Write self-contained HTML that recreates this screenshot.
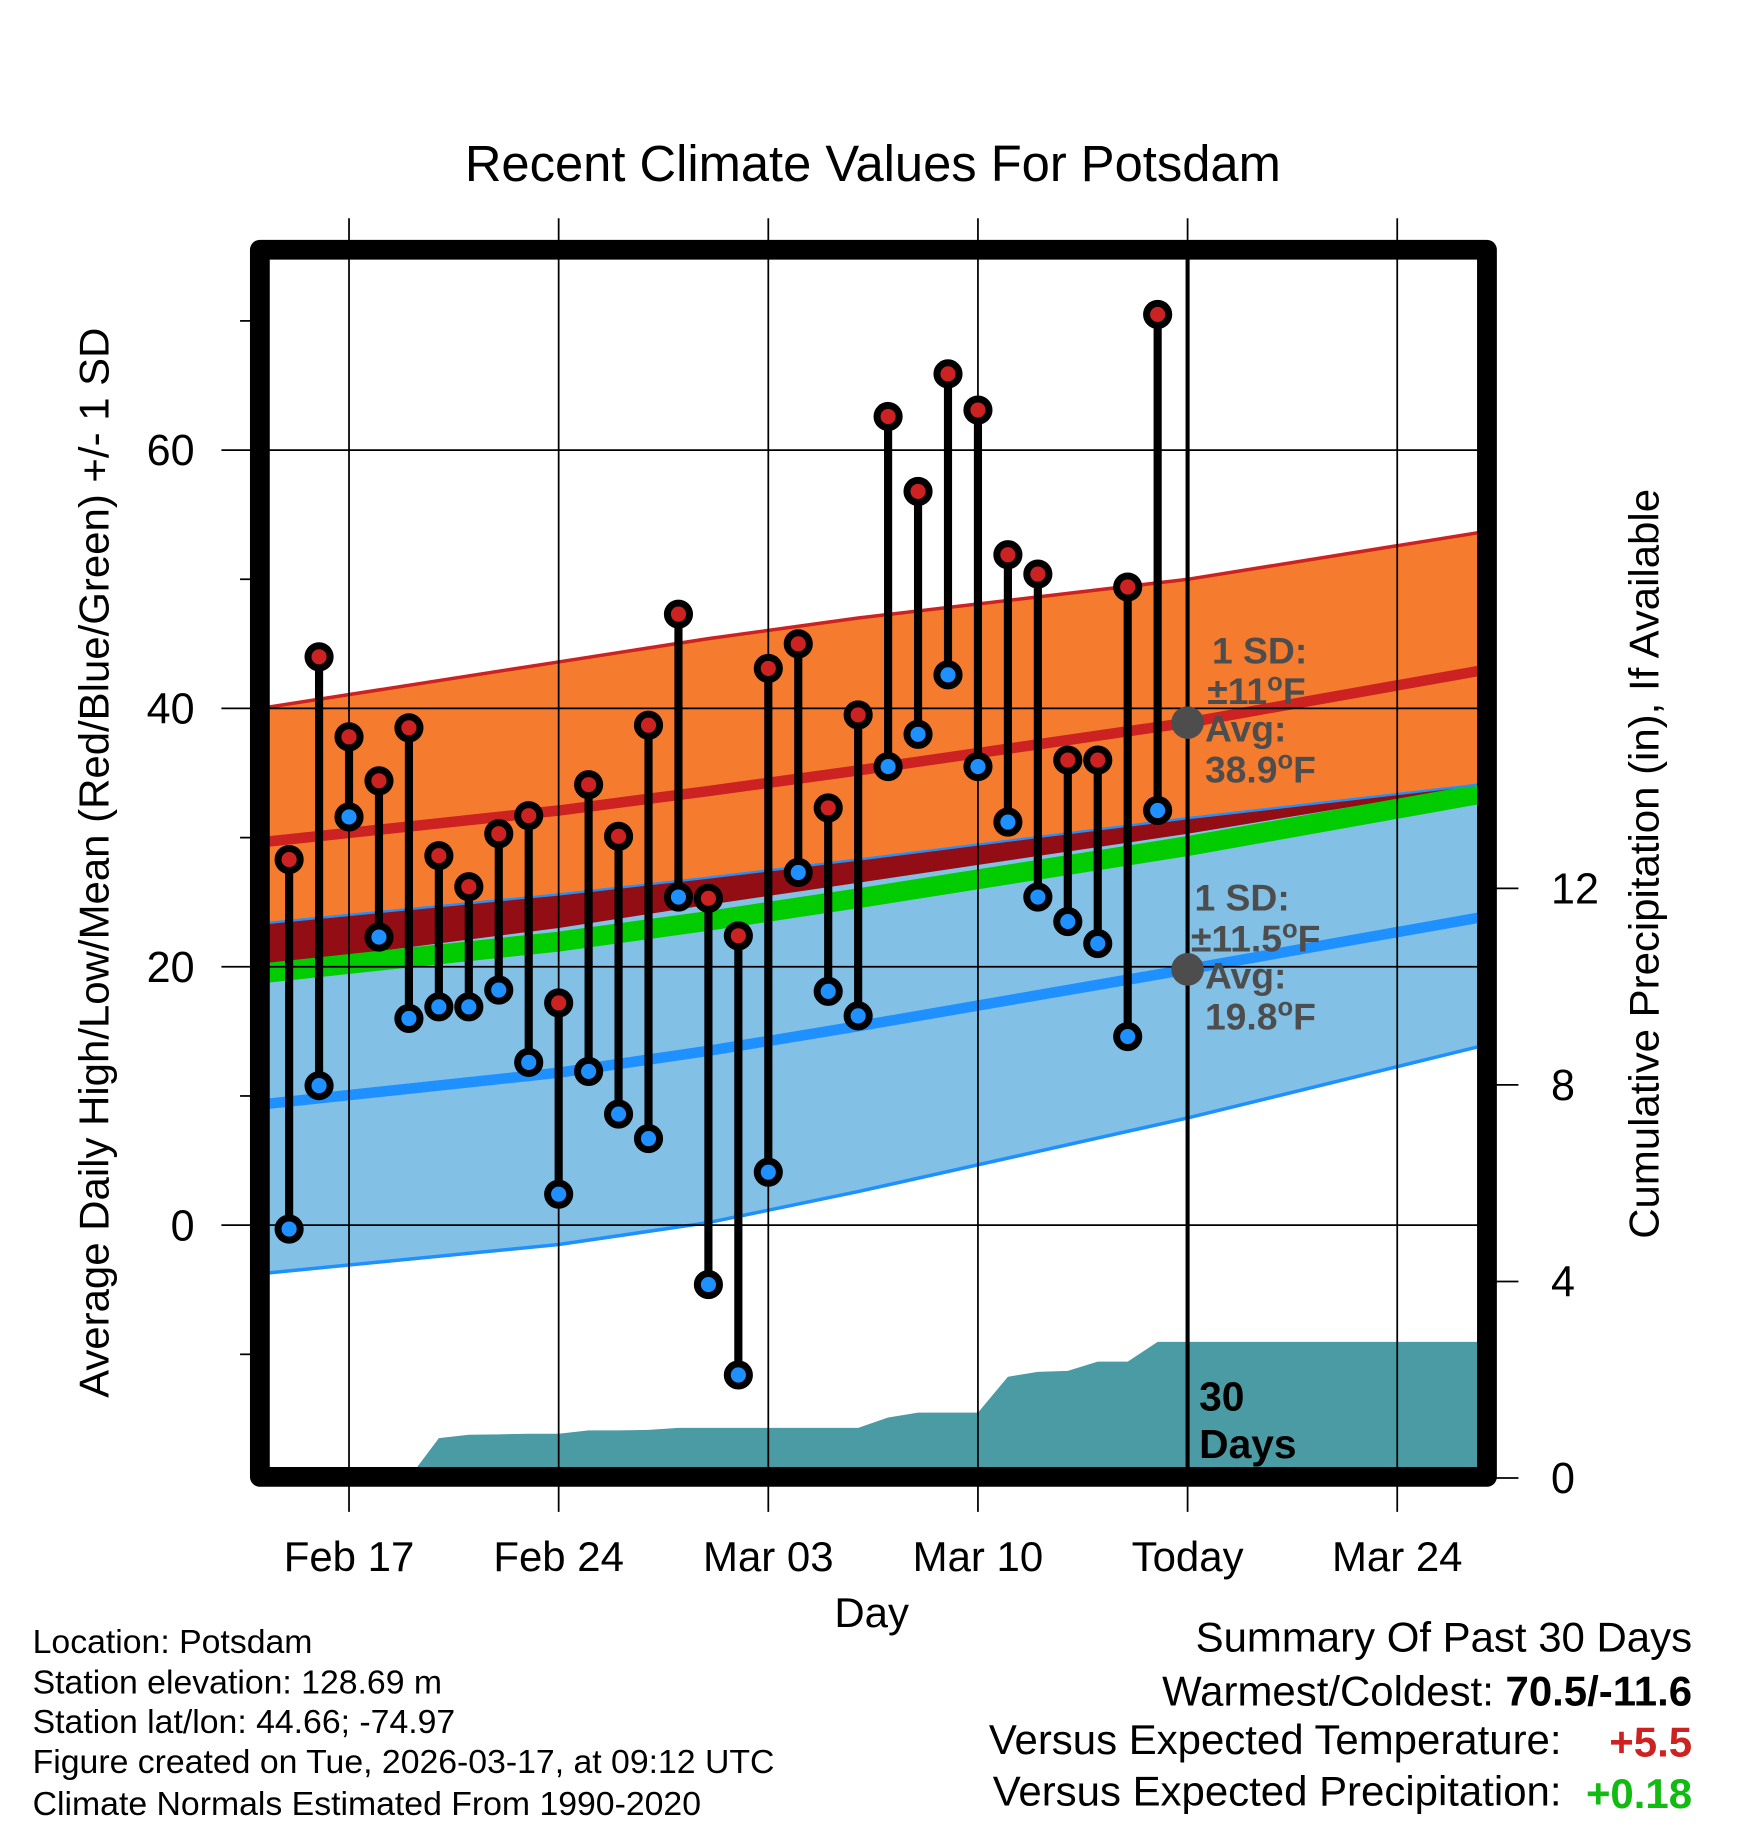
<!DOCTYPE html>
<html><head><meta charset="utf-8">
<style>
html,body{margin:0;padding:0;background:#fff;}
svg{display:block;font-family:"Liberation Sans",Arial,sans-serif;}
</style></head>
<body>
<svg id="chart" width="1748" height="1828" viewBox="0 0 1500 1568" xmlns="http://www.w3.org/2000/svg">
<defs><clipPath id="plotclip"><rect x="231" y="223" width="1037" height="1036"/></clipPath></defs>
<rect x="0" y="0" width="1500" height="1568" fill="#fff"/>
<text x="749" y="155" font-size="43.5" text-anchor="middle">Recent Climate Values For Potsdam</text>
<g id="plot" clip-path="url(#plotclip)"></g>
<g id="grid"></g>
<g id="marks"></g>
<rect x="223" y="214" width="1053" height="1053" fill="none" stroke="#000" stroke-width="17" stroke-linejoin="round"/>
<g id="axes"></g>
<text x="748" y="1396" font-size="36" text-anchor="middle">Day</text>
<text transform="translate(93,740) rotate(-90)" font-size="36" text-anchor="middle">Average Daily High/Low/Mean (Red/Blue/Green) +/- 1 SD</text>
<text transform="translate(1423,741) rotate(-90)" font-size="36" text-anchor="middle">Cumulative Precipitation (in), If Available</text>
<g font-size="29">
<text x="28" y="1418">Location: Potsdam</text>
<text x="28" y="1453">Station elevation: 128.69 m</text>
<text x="28" y="1487">Station lat/lon: 44.66; -74.97</text>
<text x="28" y="1521">Figure created on Tue, 2026-03-17, at 09:12 UTC</text>
<text x="28" y="1557">Climate Normals Estimated From 1990-2020</text>
</g>
<g font-size="36" text-anchor="end">
<text x="1452" y="1417">Summary Of Past 30 Days</text>
<text x="1452" y="1463">Warmest/Coldest: <tspan font-weight="bold">70.5/-11.6</tspan></text>
<text x="1340" y="1505">Versus Expected Temperature:</text>
<text x="1452" y="1507" fill="#cc2222" font-weight="bold">+5.5</text>
<text x="1340" y="1549">Versus Expected Precipitation:</text>
<text x="1452" y="1551" fill="#11bb11" font-weight="bold">+0.18</text>
</g>
</svg>
<script>
// observed data (day 0 = Feb 17)
const obsDays = [-2,-1,0,1,2,3,4,5,6,7,8,9,10,11,12,13,14,15,16,17,18,19,20,21,22,23,24,25,26,27];
const highs = [28.3,44.0,37.8,34.4,38.5,28.6,26.2,30.3,31.7,17.2,34.1,30.1,38.7,47.3,25.3,22.4,43.1,45.0,32.3,39.5,62.6,56.8,65.9,63.1,51.9,50.4,36.0,36.0,49.4,70.5];
const lows = [-0.3,10.8,31.6,22.3,16.0,16.9,16.9,18.2,12.6,2.4,11.9,8.6,6.7,25.4,-4.6,-11.6,4.1,27.3,18.1,16.2,35.5,38.0,42.6,35.5,31.2,25.4,23.5,21.8,14.6,32.1];
const precip = [0,0,0,0,0,0.81,0.88,0.89,0.90,0.90,0.97,0.97,0.98,1.02,1.02,1.02,1.02,1.02,1.02,1.02,1.23,1.33,1.33,1.33,2.06,2.16,2.18,2.37,2.37,2.77];
// normals
const normDays = [-2.7,7,12,17,28,37.7];
const highUpper = [40.1,43.6,45.4,47.0,50.0,53.6];
const highAvg = [29.7,32.1,33.6,35.2,38.9,42.9];
const highLower = [20.1,23.0,24.8,26.5,30.3,34.0];
const lowUpper = [23.4,25.6,26.9,28.3,31.5,34.1];
const lowAvg = [9.4,11.8,13.5,15.4,19.8,23.8];
const lowLower = [-3.7,-1.5,0.2,2.6,8.3,13.8];
const xTickDays = [0,7,14,21,28,35];
const xTickLabels = ["Feb 17","Feb 24","Mar 03","Mar 10","Today","Mar 24"];
const yTicks = [0,20,40,60];
const yMinor = [-10,10,30,50,70];
const y2Ticks = [0,4,8,12];

const NS="http://www.w3.org/2000/svg";
function X(d){return 299.5+d*25.7;}
function Y(v){return 1051-v*11.085;}
function Y2(p){return 1268-p*42.17;}
function mk(tag,attrs,parent){const e=document.createElementNS(NS,tag);for(const k in attrs)e.setAttribute(k,attrs[k]);parent.appendChild(e);return e;}
const plot=document.getElementById('plot'),grid=document.getElementById('grid'),marks=document.getElementById('marks'),axes=document.getElementById('axes');
function pts(ds,vs){return ds.map((d,i)=>X(d).toFixed(1)+','+Y(vs[i]).toFixed(1));}
function band(upper,lower,fill,name){
  const p=pts(normDays,upper).concat(pts(normDays,lower).reverse()).join(' ');
  const e=mk('polygon',{points:p,fill:fill},plot);
  
  
}
function line(vs,color,w,name){
  const e=mk('polyline',{points:pts(normDays,vs).join(' '),fill:'none',stroke:color,'stroke-width':w},plot);
  
  
}
band(highUpper,highLower,'#f57c2e','high-sd-band');
band(lowUpper,lowLower,'#82c0e6','low-sd-band');
band(lowUpper,highLower,'#930d14','overlap-band');
const meanVals=highAvg.map((v,i)=>(v+lowAvg[i])/2);
line(meanVals,'#00cc00',17,'mean-line');
line(highUpper,'#cc2222',3,'high-upper-line');
line(highAvg,'#cc2222',9,'high-avg-line');
line(lowUpper,'#1e90ff',2,'low-upper-line');
line(lowAvg,'#1e90ff',9,'low-avg-line');
line(lowLower,'#1e90ff',3,'low-lower-line');
// precip
let pp=[X(obsDays[0])+','+1262];
obsDays.forEach((d,i)=>pp.push(X(d).toFixed(1)+','+Y2(precip[i]).toFixed(1)));
pp.push('1270,'+Y2(precip[precip.length-1]).toFixed(1));pp.push('1270,1262');
const pr=mk('polygon',{points:pp.join(' '),fill:'#4a9ba3'},plot);


// grid
yTicks.forEach(v=>{const g=mk('line',{x1:190,x2:1268,y1:Y(v),y2:Y(v),stroke:'#000','stroke-width':1.5},grid);


const t=mk('text',{x:167,y:Y(v)+13,'font-size':37,'text-anchor':'end'},axes);t.textContent=v;

});
yMinor.forEach(v=>{const g=mk('line',{x1:206,x2:216,y1:Y(v),y2:Y(v),stroke:'#000','stroke-width':1.5},axes);

});
xTickDays.forEach((d,i)=>{const isToday=xTickLabels[i]==='Today';
const g=mk('line',{x1:X(d),x2:X(d),y1:187,y2:1297,stroke:'#000','stroke-width':1.5},grid);


if(isToday){const t2=mk('line',{x1:X(d),x2:X(d),y1:222,y2:1260,stroke:'#000','stroke-width':3.5},marks);

}
const t=mk('text',{x:X(d),y:1348,'font-size':36,'text-anchor':'middle'},axes);t.textContent=xTickLabels[i];

});
y2Ticks.forEach(p=>{const g=mk('line',{x1:1284,x2:1303,y1:Y2(p),y2:Y2(p),stroke:'#000','stroke-width':1.5},axes);


const t=mk('text',{x:1331,y:Y2(p)+13,'font-size':37},axes);t.textContent=p;

});
// stems & markers
obsDays.forEach((d,i)=>{const s=mk('line',{x1:X(d),x2:X(d),y1:Y(highs[i]),y2:Y(lows[i]),stroke:'#000','stroke-width':7},marks);

});
obsDays.forEach((d,i)=>{
 const h=mk('circle',{cx:X(d),cy:Y(highs[i]),r:9.5,fill:'#cc2222',stroke:'#000','stroke-width':6},marks);
 
 
 const l=mk('circle',{cx:X(d),cy:Y(lows[i]),r:9.5,fill:'#1e90ff',stroke:'#000','stroke-width':6},marks);
 
 
});
// today annotations
const todayX=X(28);
[[38.9,'high-avg-today-dot'],[19.8,'low-avg-today-dot']].forEach(a=>{const c=mk('circle',{cx:todayX,cy:Y(a[0]),r:14,fill:'#4d4d4d'},marks);

});
function lbl(x,y,txt,name,col,fs){const t=mk('text',{x:x,y:y,'font-size':fs||32,'font-weight':'bold',fill:col||'#4d4d4d'},marks);t.innerHTML=txt;

}
lbl(1040,569,'1 SD:','high-sd-label');
lbl(1036,604,'±11<tspan dy="-12" font-size="22">o</tspan><tspan dy="12">F</tspan>','high-sd-value');
lbl(1034,636,'Avg:','high-avg-label');
lbl(1034,671,'38.9<tspan dy="-12" font-size="22">o</tspan><tspan dy="12">F</tspan>','high-avg-value');
lbl(1025,781,'1 SD:','low-sd-label');
lbl(1022,816,'±11.5<tspan dy="-12" font-size="22">o</tspan><tspan dy="12">F</tspan>','low-sd-value');
lbl(1034,848,'Avg:','low-avg-label');
lbl(1034,883,'19.8<tspan dy="-12" font-size="22">o</tspan><tspan dy="12">F</tspan>','low-avg-value');
lbl(1029,1210,'30','days-label-1','#000',35);
lbl(1029,1251,'Days','days-label-2','#000',35);
</script>
</body></html>
